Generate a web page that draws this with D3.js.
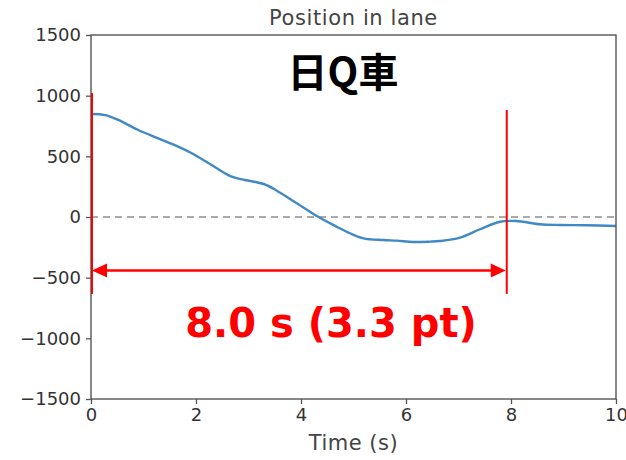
<!DOCTYPE html>
<html><head><meta charset="utf-8">
<script src="https://cdn.jsdelivr.net/npm/d3@7"></script>
<style>body{margin:0;background:#fff;} svg{display:block;}</style>
</head><body>
<script>
const times  = [0,0.27,0.52,0.9,1.28,1.66,1.92,2.3,2.68,2.93,3.29,3.54,3.92,4.3,4.68,4.93,5.19,5.57,5.82,6.14,6.46,6.65,7.03,7.41,7.79,8.1,8.55,8.93,9.44,10];
const position = [849,840,800,717,648,580,525,428,332,305,272,217,113,8,-80,-134,-176,-190,-195,-206,-203,-198,-170,-101,-39,-33,-60,-66,-68,-74];
const xTicks = [0,2,4,6,8,10];
const yTicks = [-1500,-1000,-500,0,500,1000,1500];
const markTimes = [0, 7.9];
const markTops = [1022, 882];
const markBottom = -634;
const arrowY = -440;
const title = "Position in lane";
const xLabel = "Time (s)";
const bigLabel = "日Q車";
const durationLabel = "8.0 s (3.3 pt)";

const W = 626, H = 460;
const m = {left:91, right:10, top:35, bottom:61};
const svg = d3.select("body").append("svg").attr("width", W).attr("height", H);
const x = d3.scaleLinear().domain([0,10]).range([m.left, W-m.right]);
const y = d3.scaleLinear().domain([-1500,1500]).range([H-m.bottom, m.top]);

const axisColor = "#555";
const textColor = "#333";
const font = "DejaVu Sans, sans-serif";

// zero reference line
svg.append("line").attr("x1", x(0)).attr("x2", x(10)).attr("y1", y(0)).attr("y2", y(0))
  .attr("stroke", "#aaa").attr("stroke-width", 2).attr("stroke-dasharray", "7,5");

// data line
svg.append("path").datum(times.map((t,i)=>[t, position[i]]))
  .attr("fill","none").attr("stroke","#4189c5").attr("stroke-width",2.4)
  .attr("d", d3.line().x(d=>x(d[0])).y(d=>y(d[1])).curve(d3.curveCatmullRom.alpha(0.5)));

// axes
const xa = svg.append("g").attr("transform", `translate(0,${H-m.bottom})`)
  .call(d3.axisBottom(x).tickValues(xTicks).tickFormat(d3.format("d")).tickSize(5).tickPadding(4));
const ya = svg.append("g").attr("transform", `translate(${m.left},0)`)
  .call(d3.axisLeft(y).tickValues(yTicks).tickFormat(d => d < 0 ? "\u2212" + Math.abs(d) : String(d)).tickSize(5).tickPadding(5));
[xa, ya].forEach(g => {
  g.select(".domain").remove();
  g.selectAll(".tick line").attr("stroke", axisColor).attr("stroke-width", 1.3);
  g.selectAll(".tick text").attr("fill", textColor).attr("font-family", font).attr("font-size", 18);
});
// frame
svg.append("rect").attr("x", x(0)).attr("y", y(1500)).attr("width", x(10)-x(0)).attr("height", y(-1500)-y(1500))
  .attr("fill","none").attr("stroke", axisColor).attr("stroke-width", 1.4);

// titles
svg.append("text").attr("x", (x(0)+x(10))/2).attr("y", 25).attr("text-anchor","middle")
  .attr("font-family", font).attr("font-size", 21).attr("letter-spacing", 0.6).attr("fill", "#444").text(title);
svg.append("text").attr("x", (x(0)+x(10))/2).attr("y", 450).attr("text-anchor","middle")
  .attr("font-family", font).attr("font-size", 21).attr("letter-spacing", 0.5).attr("fill", "#444").text(xLabel);

// annotations
markTimes.forEach((t,i) => {
  svg.append("line").attr("x1", x(t)+1).attr("x2", x(t)+1).attr("y1", y(markTops[i])).attr("y2", y(markBottom))
    .attr("stroke", "red").attr("stroke-width", 2);
});
const ax0 = x(markTimes[0])+1, ax1 = x(markTimes[1]), ay = y(arrowY);
const hl = 15, hw = 7;
svg.append("line").attr("x1", ax0+hl-2).attr("x2", ax1-hl+2).attr("y1", ay).attr("y2", ay)
  .attr("stroke","red").attr("stroke-width",2.5);
svg.append("path").attr("fill","red")
  .attr("d", `M${ax0},${ay}L${ax0+hl},${ay-hw}L${ax0+hl},${ay+hw}Z`);
svg.append("path").attr("fill","red")
  .attr("d", `M${ax1},${ay}L${ax1-hl},${ay-hw}L${ax1-hl},${ay+hw}Z`);

svg.append("text").attr("x", 343).attr("y", 87).attr("text-anchor","middle")
  .attr("font-family", "'Noto Sans CJK JP', sans-serif").attr("font-weight", "bold")
  .attr("font-size", 40).attr("fill", "#000").text(bigLabel);
svg.append("text").attr("x", 331).attr("y", 337).attr("text-anchor","middle")
  .attr("font-family", font).attr("font-weight", "bold")
  .attr("font-size", 40).attr("fill", "red").text(durationLabel);
</script>
</body></html>
